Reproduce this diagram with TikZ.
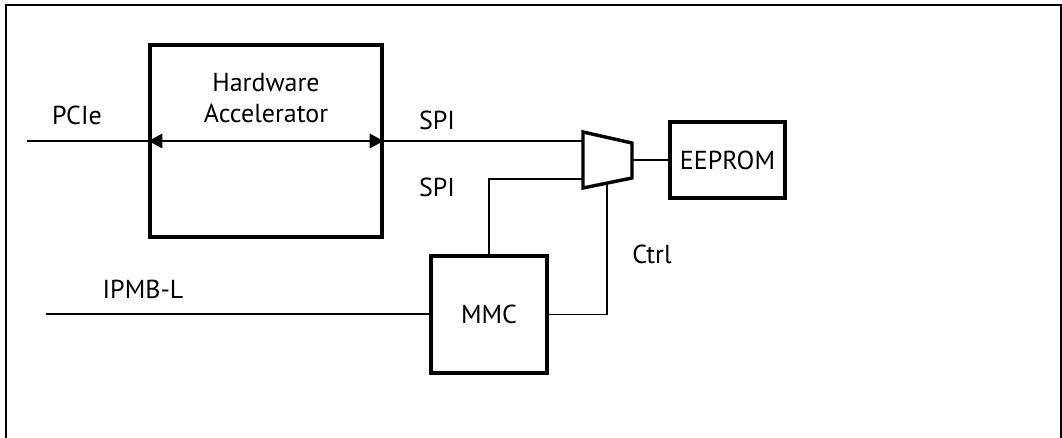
\documentclass[tikz,border=0pt]{standalone}
\usepackage{fontspec}
\setmainfont{PT Sans}
\usetikzlibrary{positioning,arrows.meta}

\begin{document}
\begin{tikzpicture}[
    x=1pt, y=-1pt,
    every node/.style={font=\fontsize{26}{31}\selectfont},
    box/.style={draw, line width=3.4pt, inner sep=0pt, align=center},
    wire/.style={line width=1.7pt},
    bus/.style={{Triangle[length=14pt,width=14pt]}-{Triangle[length=14pt,width=14pt]}, line width=2.8pt},
    lbl/.style={inner sep=0pt}
]
\useasboundingbox (0,0) rectangle (1062,438);
% outer frame
\draw[line width=1.7pt] (6,438) |- (1061,5) -- (1061,438);

% blocks
\node[box, minimum width=232pt, minimum height=192pt] (hwa) at (266,141) {};
\node[lbl, align=center] (hwatext) at (266,98) {Hardware\\Accelerator};
\node[box, minimum width=115pt, minimum height=76pt] (eeprom) at (727.5,160) {EEPROM};
\node[box, minimum width=116pt, minimum height=117pt] (mmc) at (489,314.5) {MMC};

% mux
\coordinate (muxtl) at (583,132);
\coordinate (muxtr) at (632,143);
\coordinate (muxbr) at (632,178);
\coordinate (muxbl) at (583,188);
\draw[line width=3.4pt, line join=miter] (muxtl) -- (muxtr) -- (muxbr) -- (muxbl) -- cycle;
\coordinate (muxin1) at (muxtl |- hwa.east);
\coordinate (muxin2) at (583,179);
\coordinate (muxout) at (632,160);
\coordinate (muxsel) at (607,183);

% wires
\coordinate (pcie) at (27,141);
\coordinate (ipmb) at (46,314);
\draw[wire] (pcie) -- (hwa.west);
\draw[bus] (hwa.west) -- (hwa.east);
\draw[wire] (hwa.east) -- (muxin1);
\draw[wire] (muxout) -- (muxout -| eeprom.west);
\draw[wire] (muxin2) -| (mmc.north);
\draw[wire] (muxsel) |- (mmc.east);
\draw[wire] (ipmb) -- (ipmb -| mmc.west);

% labels
\node[lbl] (pcielbl) at (77,115) {PCIe};
\node[lbl] (spi1) at (437,120) {SPI};
\node[lbl] (spi2) at (437,187) {SPI};
\node[lbl] (ctrl) at (652,254) {Ctrl};
\node[lbl] (ipmblbl) at (143,289) {IPMB-L};
\end{tikzpicture}
\end{document}
